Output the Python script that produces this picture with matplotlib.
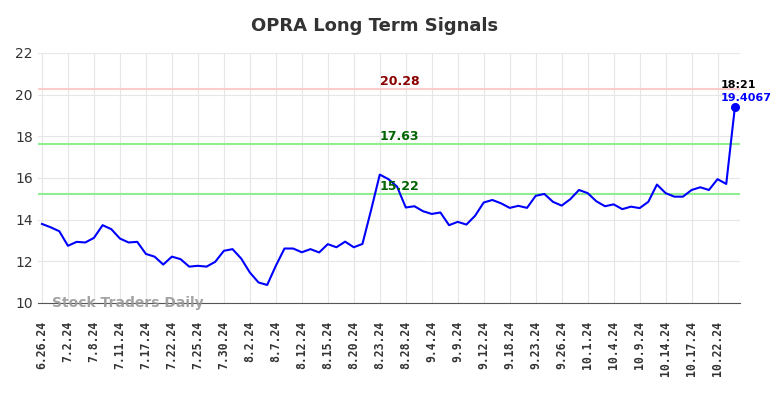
import numpy as np
import matplotlib
matplotlib.use("Agg")
import matplotlib.pyplot as plt

ticker = "OPRA"
prices = [13.79, 13.63, 13.44, 12.74, 12.93, 12.90, 13.12, 13.73, 13.54, 13.09,
          12.90, 12.93, 12.35, 12.22, 11.84, 12.22, 12.10, 11.74, 11.78, 11.74,
          11.97, 12.50, 12.58, 12.13, 11.46, 10.98, 10.86, 11.78, 12.61, 12.61,
          12.43, 12.58, 12.42, 12.82, 12.67, 12.94, 12.67, 12.83, 14.46, 16.16,
          15.94, 15.58, 14.58, 14.64, 14.40, 14.27, 14.34, 13.73, 13.89, 13.76,
          14.18, 14.82, 14.94, 14.78, 14.56, 14.66, 14.56, 15.14, 15.23, 14.85,
          14.67, 14.98, 15.42, 15.27, 14.88, 14.64, 14.73, 14.50, 14.62, 14.55,
          14.85, 15.68, 15.27, 15.10, 15.10, 15.42, 15.55, 15.42, 15.94, 15.71,
          19.4067]
tick_labels = ["6.26.24", "7.2.24", "7.8.24", "7.11.24", "7.17.24", "7.22.24",
               "7.25.24", "7.30.24", "8.2.24", "8.7.24", "8.12.24", "8.15.24",
               "8.20.24", "8.23.24", "8.28.24", "9.4.24", "9.9.24", "9.12.24",
               "9.18.24", "9.23.24", "9.26.24", "10.1.24", "10.4.24", "10.9.24",
               "10.14.24", "10.17.24", "10.22.24"]
resistance = 20.28
supports = [17.63, 15.22]
last_time = "18:21"

x = np.arange(len(prices))

fig = plt.figure(figsize=(7.84, 3.98), dpi=100)
ax = fig.add_axes([0.048, 0.239, 0.896, 0.628])

ax.axhline(resistance, color="#ffcccc", linewidth=1.5, zorder=1)
for s in supports:
    ax.axhline(s, color="#90ee90", linewidth=1.5, zorder=1)

ax.plot(x, prices, color="blue", linewidth=1.5, zorder=3)
ax.plot(x[-1], prices[-1], "o", color="blue", markersize=5.5, zorder=4)

mid = 41.3
ax.text(mid, resistance + 0.05, f"{resistance:.2f}", color="#8b0000",
        fontsize=9, fontweight="bold", ha="center", va="bottom")
for s in supports:
    ax.text(mid, s + 0.05, f"{s:.2f}", color="#006400",
            fontsize=9, fontweight="bold", ha="center", va="bottom")

# last value labels, left edge a bit before the last point
ax.text(x[-1] - 1.6, prices[-1] + 0.8, last_time, color="black",
        fontsize=8, fontweight="bold", ha="left", va="bottom")
ax.text(x[-1] - 1.6, prices[-1] + 0.2, f"{prices[-1]:.4f}", color="blue",
        fontsize=8, fontweight="bold", ha="left", va="bottom")

ax.text(1.2, 10.0, "Stock Traders Daily", color="#999999", fontsize=10,
        fontweight="bold", ha="left", va="center", alpha=0.9)

ax.set_xlim(-0.5, 80.6)
ax.set_ylim(10, 22)
ax.set_yticks(range(10, 23, 2))
ax.set_xticks(x[::3])
ax.set_xticklabels(tick_labels, rotation=90, fontsize=8.3, fontweight="bold",
                   family="DejaVu Sans Mono")
ax.tick_params(axis="y", labelsize=10, length=0, colors="#333333")
ax.tick_params(axis="x", length=0, colors="#333333", pad=13)
ax.grid(True, color="#e6e6e6", linewidth=0.8)
ax.set_axisbelow(True)
for side in ["top", "right", "left"]:
    ax.spines[side].set_visible(False)
ax.spines["bottom"].set_color("#555555")

fig.text(375 / 784, 1 - 26 / 398, f"{ticker} Long Term Signals", fontsize=13,
         fontweight="bold", color="#333333", ha="center", va="center")

fig.savefig("out.png", dpi=100)
